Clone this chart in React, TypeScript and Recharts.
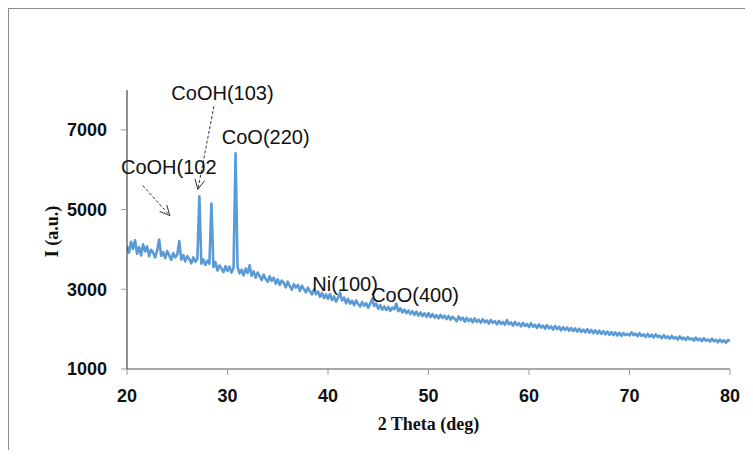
import React from 'react';
import { LineChart, Line, XAxis, YAxis, ReferenceDot, ReferenceLine } from 'recharts';

// 2θ grid: each segment starts at `start` and is sampled every 0.2°
const THETA_STEP = 0.2;

const seg20 = [
  4080, 3920, 4190, 4010, 4230, 3890, 4060, 3850, 4130, 3950,
  4080, 3830, 3990, 3920, 3800, 3970, 4250, 3840, 3930, 3780,
  3960, 3850, 3740, 3910, 3800, 3870, 4210, 3740, 3860, 3700,
  3830, 3760, 3650, 3800, 3690, 3760, 5330, 3640, 3750, 3610,
  3720, 3640, 5150, 3560, 3680, 3470, 3600, 3520, 3430, 3580,
];
const seg30 = [
  3460, 3570, 3420, 3530, 6410, 3560, 3400, 3490, 3350, 3520,
  3410, 3600, 3340, 3450, 3290, 3420, 3330, 3230, 3370, 3260,
  3190, 3330, 3210, 3290, 3140, 3250, 3110, 3220, 3160, 3050,
  3190, 3080, 2990, 3130, 3040, 3110, 2960, 3090, 3010, 2920,
  3040, 2950, 2870, 2990, 2880, 2950, 2810, 2910, 2780, 2870,
];
const seg40 = [
  2760, 2880, 2730, 2820, 2690, 2790, 2920, 2720, 2790, 2650,
  2760, 2640, 2710, 2600, 2720, 2630, 2570, 2680, 2590, 2650,
  2540, 2640, 2760, 2580, 2640, 2510, 2600, 2490, 2570, 2480,
  2560, 2460, 2540, 2500, 2640, 2450, 2520, 2420, 2490, 2400,
  2470, 2380, 2450, 2360, 2440, 2340, 2420, 2330, 2400, 2310,
];
const seg50 = [
  2400, 2300, 2380, 2290, 2350, 2270, 2360, 2280, 2340, 2250,
  2330, 2240, 2310, 2260, 2200, 2320, 2230, 2290, 2190, 2280,
  2200, 2260, 2170, 2270, 2180, 2240, 2160, 2250, 2170, 2220,
  2140, 2230, 2160, 2200, 2120, 2210, 2130, 2180, 2110, 2230,
  2120, 2170, 2090, 2180, 2100, 2150, 2070, 2160, 2080, 2130,
];
const seg60 = [
  2050, 2150, 2060, 2110, 2030, 2120, 2040, 2090, 2010, 2100,
  2020, 2070, 1990, 2080, 2000, 2060, 1970, 2050, 1980, 2040,
  1960, 2030, 1950, 2020, 1940, 2010, 1930, 1990, 1920, 2000,
  1910, 1980, 1900, 1970, 1890, 1960, 1880, 1950, 1870, 1940,
  1860, 1930, 1850, 1920, 1840, 1910, 1830, 1900, 1850, 1880,
];
const seg70 = [
  1840, 1920, 1850, 1890, 1820, 1900, 1830, 1870, 1800, 1880,
  1810, 1860, 1790, 1870, 1800, 1840, 1770, 1850, 1780, 1820,
  1760, 1830, 1770, 1800, 1740, 1820, 1750, 1790, 1730, 1800,
  1740, 1770, 1710, 1790, 1720, 1760, 1700, 1770, 1710, 1740,
  1690, 1760, 1700, 1730, 1670, 1740, 1680, 1720, 1660, 1730,
  1700,
];

const segments = [
  { start: 20, values: seg20 },
  { start: 30, values: seg30 },
  { start: 40, values: seg40 },
  { start: 50, values: seg50 },
  { start: 60, values: seg60 },
  { start: 70, values: seg70 },
];

const xTicks = [20, 30, 40, 50, 60, 70, 80];
const yTicks = [1000, 3000, 5000, 7000];

const peakLabels = [
  { text: 'CoOH(103)', x: 29.5, y: 7918 },
  { text: 'CoO(220)', x: 33.8, y: 6811 },
  { text: 'CoOH(102', x: 24.16, y: 6069 },
  { text: 'Ni(100)', x: 41.7, y: 3138 },
  { text: 'CoO(400)', x: 48.66, y: 2862 },
];

const arrows = [
  { from: { x: 28.65, y: 7591 }, to: { x: 27.05, y: 5503 } },
  { from: { x: 21.57, y: 5604 }, to: { x: 24.26, y: 4849 } },
];

const data = segments.flatMap((s) =>
  s.values.map((v, i) => ({ t: Math.round((s.start + i * THETA_STEP) * 10) / 10, I: v }))
);

const ArrowShape = (props: any) => {
  const { x1, y1, x2, y2 } = props;
  const ang = Math.atan2(y2 - y1, x2 - x1);
  const len = 11;
  const spread = 0.45;
  const ax1 = x2 - len * Math.cos(ang - spread);
  const ay1 = y2 - len * Math.sin(ang - spread);
  const ax2 = x2 - len * Math.cos(ang + spread);
  const ay2 = y2 - len * Math.sin(ang + spread);
  return (
    <g>
      <line x1={x1} y1={y1} x2={x2} y2={y2} stroke="#333" strokeWidth={1} strokeDasharray="3 2" />
      <polyline points={`${ax1},${ay1} ${x2},${y2} ${ax2},${ay2}`} fill="none" stroke="#333" strokeWidth={1} />
    </g>
  );
};

const makeTextShape = (text: string) => (props: any) => (
  <text
    x={props.cx}
    y={props.cy}
    textAnchor="middle"
    dominantBaseline="central"
    fontFamily="'Liberation Sans', Arial, sans-serif"
    fontSize={20}
    fill="#111"
  >
    {text}
  </text>
);

const tickStyle = {
  fontFamily: "'Liberation Sans', Arial, sans-serif",
  fontSize: 18,
  fontWeight: 700,
  fill: '#111',
};

export default function App() {
  return (
    <div style={{ position: 'relative', width: 745, height: 442 }}>
      <LineChart
        width={745}
        height={442}
        data={data}
        margin={{ top: 82, right: 23, bottom: 31, left: 0 }}
        style={{ position: 'absolute', left: 0, top: 0 }}
      >
        <XAxis
          dataKey="t"
          type="number"
          domain={[20, 80]}
          ticks={xTicks}
          height={50}
          tickSize={6}
          tickMargin={14}
          axisLine={{ stroke: '#555', strokeWidth: 1 }}
          tickLine={{ stroke: '#999' }}
          tick={tickStyle}
          allowDataOverflow
          label={(p: any) => {
            const vb = p.viewBox || {};
            return (
              <text
                x={vb.x + vb.width / 2}
                y={422}
                textAnchor="middle"
                fontFamily="'Liberation Serif', 'Times New Roman', serif"
                fontWeight={700}
                fontSize={18}
                fill="#111"
              >
                2 Theta (deg)
              </text>
            );
          }}
        />
        <YAxis
          type="number"
          domain={[1000, 8000]}
          ticks={yTicks}
          width={119}
          tickSize={6}
          tickMargin={14}
          axisLine={{ stroke: '#222', strokeWidth: 1 }}
          tickLine={{ stroke: '#999' }}
          tick={tickStyle}
          allowDataOverflow
          label={(p: any) => {
            const vb = p.viewBox || {};
            const cx = 44;
            const cy = vb.y + vb.height / 2 + 2;
            return (
              <text
                x={cx}
                y={cy}
                transform={`rotate(-90 ${cx} ${cy})`}
                textAnchor="middle"
                dominantBaseline="central"
                fontFamily="'Liberation Serif', 'Times New Roman', serif"
                fontWeight={700}
                fontSize={18}
                fill="#111"
              >
                I (a.u.)
              </text>
            );
          }}
        />
        <Line
          type="linear"
          dataKey="I"
          stroke="#5B9BD5"
          strokeWidth={2.6}
          strokeLinejoin="round"
          dot={false}
          isAnimationActive={false}
        />
        {arrows.map((a, i) => (
          <ReferenceLine key={'a' + i} segment={[a.from, a.to]} shape={ArrowShape} ifOverflow="visible" />
        ))}
        {peakLabels.map((l) => (
          <ReferenceDot key={l.text} x={l.x} y={l.y} r={0} ifOverflow="visible" shape={makeTextShape(l.text)} />
        ))}
      </LineChart>
      <div style={{ position: 'absolute', zIndex: 5, left: 0, top: 0, width: 745, height: 1, background: '#8c8c8c' }} />
      <div style={{ position: 'absolute', zIndex: 5, left: 0, top: 0, width: 1, height: 447, background: '#8c8c8c' }} />
    </div>
  );
}
